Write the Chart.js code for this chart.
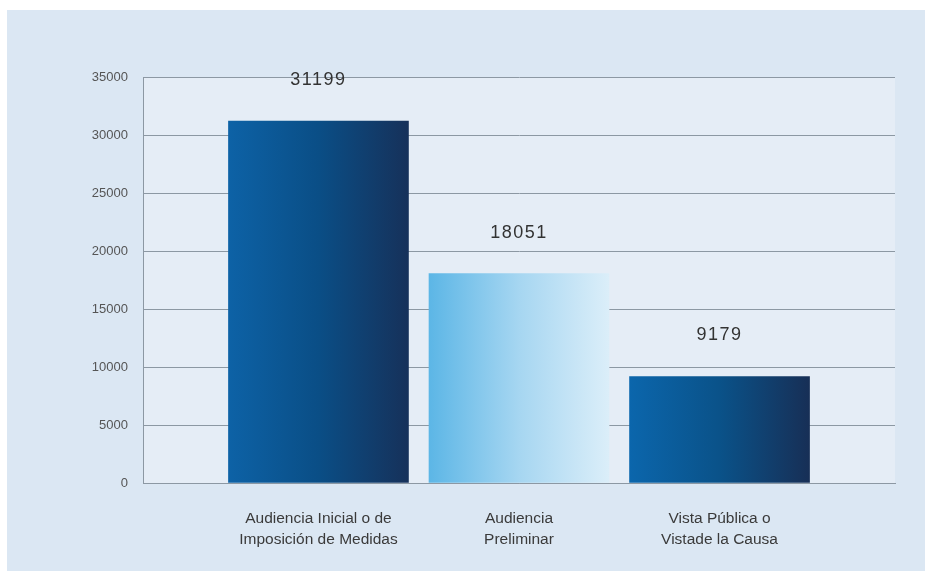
<!DOCTYPE html>
<html>
<head>
<meta charset="utf-8">
<script src="https://cdn.jsdelivr.net/npm/chart.js@4"></script>
<style>
    html, body { margin: 0; padding: 0; background: #ffffff; }
    #panel {
        position: absolute;
        left: 7px;
        top: 10px;
        width: 918px;
        height: 561px;
        background: #dbe7f3;
    }
    #wrap { position: absolute; left: 0; top: 0; width: 925px; height: 571px; }
</style>
</head>
<body>
<div id="panel"></div>
<div id="wrap"><canvas id="barChart"></canvas></div>
<script>
// datos de la gráfica
const categoryLabels = [
    ['Audiencia Inicial o de', 'Imposición de Medidas'],
    ['Audiencia', 'Preliminar'],
    ['Vista Pública o', 'Vistade la Causa']
];
const audienciaValues = [31199, 18051, 9179];
const yTickValues = [0, 5000, 10000, 15000, 20000, 25000, 30000, 35000];

// colores de cada barra (izquierda -> derecha)
const barGradients = [
    ['#0d62a6', '#0a4e86', '#16315a'],
    ['#5cb6e6', '#a6d6f1', '#dbeef9'],
    ['#0b66ac', '#0a5289', '#172f56']
];

const BAR_WIDTH = 180;

function barFill(ctx) {
    const chart = ctx.chart;
    if (!chart.chartArea || !chart.scales.x) return barGradients[ctx.dataIndex][0];
    const cx = chart.scales.x.getPixelForValue(ctx.dataIndex);
    const g = chart.ctx.createLinearGradient(cx - BAR_WIDTH / 2, 0, cx + BAR_WIDTH / 2, 0);
    const stops = barGradients[ctx.dataIndex];
    g.addColorStop(0, stops[0]);
    g.addColorStop(0.5, stops[1]);
    g.addColorStop(1, stops[2]);
    return g;
}

const plotBackground = {
    id: 'plotBackground',
    beforeDraw(chart) {
        const { ctx, chartArea } = chart;
        ctx.save();
        ctx.fillStyle = 'rgba(255,255,255,0.28)';
        ctx.fillRect(chartArea.left, chartArea.top, chartArea.right - chartArea.left, chartArea.bottom - chartArea.top);
        ctx.restore();
    }
};

const valueLabels = {
    id: 'valueLabels',
    afterDatasetsDraw(chart) {
        const ctx = chart.ctx;
        const meta = chart.getDatasetMeta(0);
        ctx.save();
        ctx.font = '18px "Liberation Sans", Arial, sans-serif';
        ctx.letterSpacing = '1.5px';
        ctx.fillStyle = '#333333';
        ctx.textAlign = 'center';
        ctx.textBaseline = 'middle';
        meta.data.forEach((bar, i) => {
            ctx.fillText(String(audienciaValues[i]), bar.x, bar.y - 41);
        });
        ctx.restore();
    }
};

document.addEventListener('DOMContentLoaded', function () {
    const ctx = document.getElementById('barChart').getContext('2d');

    window.myBarChart = new Chart(ctx, {
        type: 'bar',
        data: {
            datasets: [{
                data: audienciaValues.map((v, i) => ({ x: i, y: v })),
                backgroundColor: barFill,
                borderWidth: 0,
                barThickness: BAR_WIDTH
            }]
        },
        options: {
            responsive: true,
            maintainAspectRatio: false,
            animation: false,
            layout: { padding: { top: 77, right: 30, left: 0, bottom: 0 } },
            plugins: {
                legend: { display: false },
                tooltip: { enabled: false }
            },
            scales: {
                x: {
                    type: 'linear',
                    offset: false,
                    min: -0.875,
                    max: 2.875,
                    grid: { display: false, drawTicks: false, offset: false },
                    border: { display: true, color: '#8c98a3', width: 1 },
                    afterBuildTicks: scale => {
                        scale.ticks = categoryLabels.map((_, i) => ({ value: i }));
                    },
                    afterFit: scale => { scale.height = 88; },
                    ticks: {
                        padding: 26,
                        color: '#3a3a3a',
                        font: { family: '"Liberation Sans", Arial, sans-serif', size: 15.5, lineHeight: 1.3 },
                        callback: value => categoryLabels[value]
                    }
                },
                y: {
                    min: 0,
                    max: 35000,
                    grid: { color: '#8c98a3', lineWidth: 1, drawTicks: false },
                    border: { display: true, color: '#8c98a3', width: 1 },
                    afterBuildTicks: scale => {
                        scale.ticks = yTickValues.map(v => ({ value: v }));
                    },
                    afterFit: scale => { scale.width = 143; },
                    ticks: {
                        padding: 15,
                        color: '#555555',
                        font: { family: '"Liberation Sans", Arial, sans-serif', size: 13 },
                        callback: value => String(value)
                    }
                }
            }
        },
        plugins: [plotBackground, valueLabels]
    });
});
</script>
</body>
</html>
